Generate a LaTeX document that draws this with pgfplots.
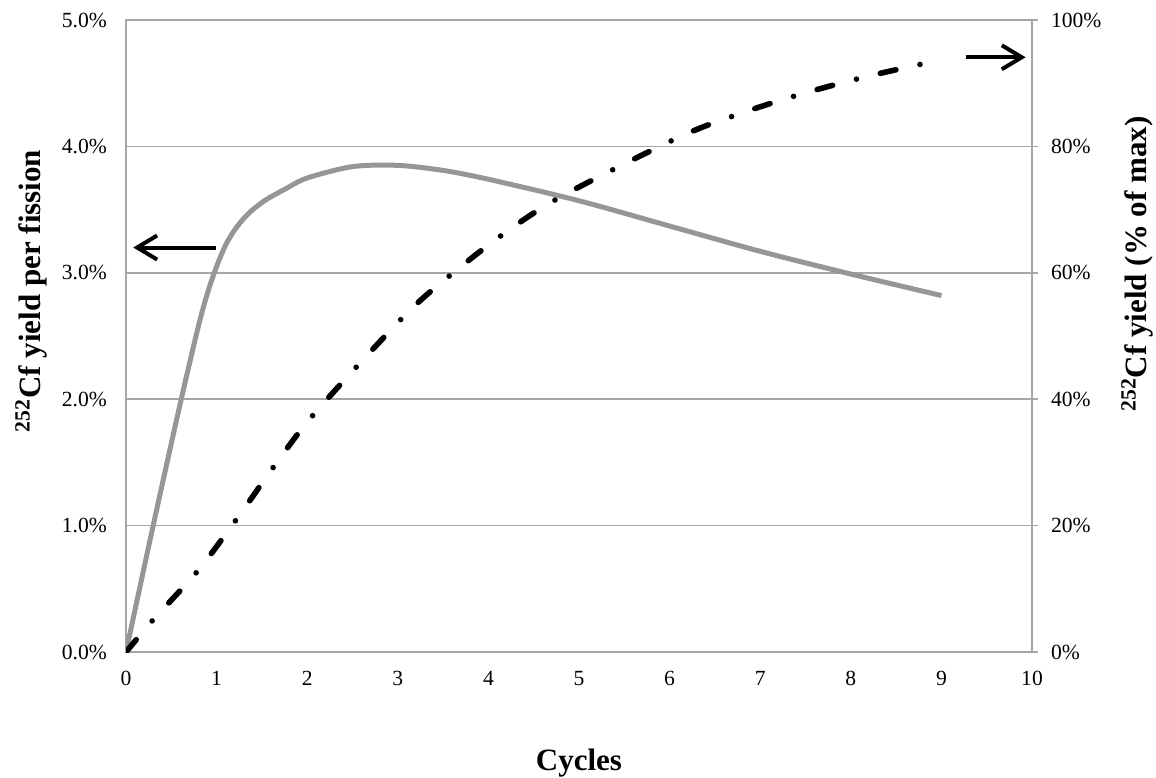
\documentclass[border=0pt]{standalone}
\usepackage{fontspec}
\setmainfont{Liberation Serif}
\usepackage{pgfplots}
\pgfplotsset{compat=1.18}
\usetikzlibrary{arrows.meta}
\definecolor{gridgray}{RGB}{166,166,166}
\definecolor{curvegray}{RGB}{150,150,150}

\begin{document}
\begin{tikzpicture}
\useasboundingbox (-63pt,-62.5pt) rectangle (515pt,326pt);
\pgfplotsset{
  every axis/.append style={
    width=453pt, height=316pt, scale only axis,
    at={(0,0)}, anchor=south west,
    xmin=0, xmax=10,
    tick label style={font=\fontsize{10.8}{13}\selectfont,
      /pgf/number format/assume math mode=true},
    axis line style={gridgray, line width=0.75pt},
  }
}
% left axis: yield per fission
\begin{axis}[
  ymin=0, ymax=5,
  xtick={0,...,10}, ytick={0,...,5},
  major tick length=0pt,
  ymajorgrids, grid style={gridgray, line width=0.75pt},
  yticklabel={\pgfmathprintnumber[fixed,fixed zerofill,precision=1]{\tick}\%},
  yticklabel style={xshift=-6pt},
  xticklabel style={yshift=-6pt},
]
\addplot[curvegray, line width=2.5pt, smooth, tension=0.5] coordinates {
  (0,0) (0.3,1.0) (0.6,1.97) (0.8,2.58) (0.9,2.84) (1.0,3.05) (1.1,3.22)
  (1.2,3.34) (1.3,3.43) (1.4,3.50) (1.55,3.58) (1.75,3.66) (2.0,3.75)
  (2.5,3.84) (3.0,3.85) (3.5,3.81) (4,3.74) (5,3.57) (6,3.37)
  (7,3.17) (8,2.99) (9,2.82)
};
\draw[-{Straight Barb[length=10pt,width=12pt]}, line width=2pt]
  (axis cs:0.99,3.2) -- (axis cs:0.08,3.2);
\end{axis}
% right axis: yield as % of max
\begin{axis}[
  axis y line*=right, axis x line=none,
  ymin=0, ymax=100, ytick={0,20,...,100},
  yticklabel={\pgfmathprintnumber{\tick}\%},
  tick align=outside, major tick length=3pt,
  tick style={gridgray, line width=0.75pt},
  yticklabel style={xshift=3pt},
]
\addplot[black, line width=2.8pt, line cap=round, smooth, tension=0.5,
  dash pattern=on 8pt off 12.3pt on 0pt off 12.3pt] coordinates {
  (0,0) (0.30,5.1) (0.79,12.8) (1.23,21.2) (1.65,29.7) (2.09,37.9)
  (3.08,53.3) (3.62,60.1) (4.20,66.5) (4.82,72.2) (6.11,81.5) (6.80,85.3)
  (7.48,88.4) (8.19,91.1) (8.90,93.4) (9,93.7)
};
\draw[-{Straight Barb[length=10pt,width=12pt]}, line width=2pt]
  (axis cs:9.27,94.1) -- (axis cs:9.93,94.1);
\end{axis}
\node[rotate=90, font=\bfseries\fontsize{15.5}{18}\selectfont] at (-47.5pt,180.5pt)
  {\textsuperscript{252}Cf yield per fission};
\node[rotate=90, font=\bfseries\fontsize{15.5}{18}\selectfont] at (505.5pt,194pt)
  {\textsuperscript{252}Cf yield (\% of max)};
\node[anchor=base, font=\bfseries\fontsize{15.5}{18}\selectfont] at (226.5pt,-59pt)
  {Cycles};
\end{tikzpicture}
\end{document}
